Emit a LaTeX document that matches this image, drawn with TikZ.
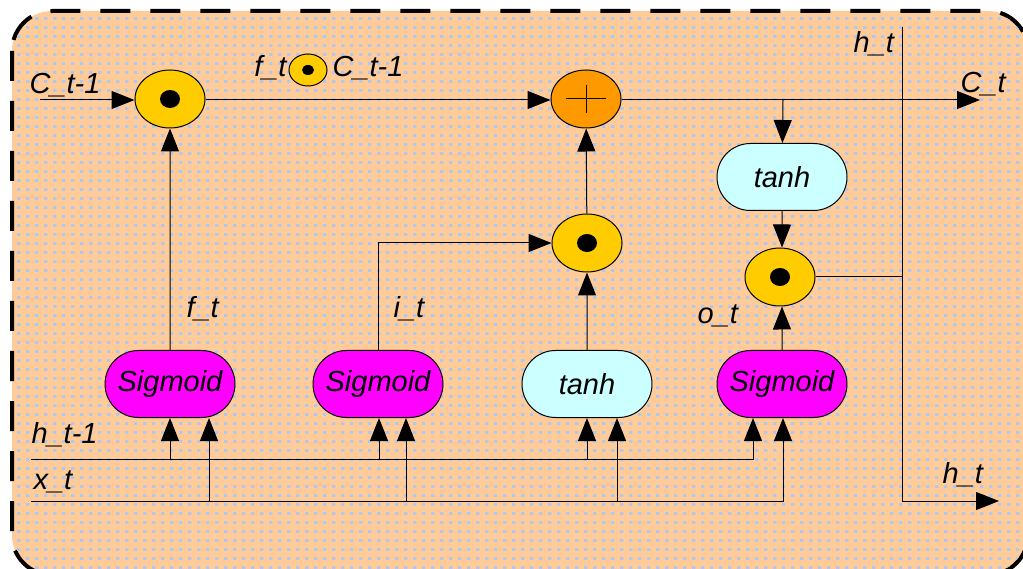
\documentclass[tikz,border=0pt]{standalone}
\usepackage{fontspec}
\setmainfont{Liberation Sans}
\usepackage{tikz}
\usetikzlibrary{shapes.misc,shapes.geometric,arrows.meta,patterns.meta}

\definecolor{peach}{HTML}{FFCC99}
\definecolor{dotblue}{HTML}{B0C8F0}
\definecolor{gold}{HTML}{FFCC00}
\definecolor{darkgold}{HTML}{FF9900}
\definecolor{pink}{HTML}{FF00FF}
\definecolor{icecyan}{HTML}{CCFFFF}

\tikzdeclarepattern{
  name=bluedots,
  type=uncolored,
  bounding box={(0pt,0pt) and (8.5pt,8.5pt)},
  tile size={(8.5pt,8.5pt)},
  code={\fill (0pt,0pt) rectangle (3.5pt,3pt);}
}

\tikzset{
  gate/.style={rounded rectangle, draw, minimum width=130, minimum height=67, inner sep=0},
  prod/.style={ellipse, draw, fill=gold, minimum width=70, minimum height=58, inner sep=0},
  arr/.style={-{Triangle[length=23pt,width=18pt]}},
  lbl/.style={inner sep=0, anchor=base west},
}

\begin{document}
\begin{tikzpicture}[x=1pt, y=-1pt, font=\fontsize{29}{31}\selectfont\itshape, line width=1pt]
    \useasboundingbox (0,0) rectangle (1023,569);
    \clip (0,0) rectangle (1023,569);

    % Background box
    \draw[line width=4pt, dash pattern=on 30pt off 20pt, rounded corners=40, fill=peach]
        (12,11) rectangle (1028,575);
    \fill[pattern=bluedots, pattern color=dotblue, rounded corners=38]
        (14,13) rectangle (1026,573);

    % Gates
    \node[gate, fill=pink] (sig1) at (170,384) {Sigmoid};
    \node[gate, fill=pink] (sig2) at (378,384) {Sigmoid};
    \node[gate, fill=icecyan] (th1) at (587,384) {tanh};
    \node[gate, fill=pink] (sig3) at (782,384) {Sigmoid};
    \node[gate, fill=icecyan] (th2) at (782,177) {tanh};

    % Pointwise operations
    \node[prod] (m1) at (170,99) {};
    \node[prod] (m2) at (587,243) {};
    \node[prod] (m3) at (780,277) {};
    \node[prod, fill=darkgold] (add) at (586,99) {};
    \fill (m1) ellipse (10 and 9);
    \fill (m2) ellipse (10 and 9);
    \fill (m3) ellipse (10 and 9);
    \draw (add)+(-20,0) -- +(20,0);
    \draw (add)+(0,-14) -- +(0,14);

    % Legend
    \node[ellipse, draw, fill=gold, minimum width=38, minimum height=32, inner sep=0] (leg) at (308,70) {};
    \fill (leg) ellipse (6 and 5);
    \node[inner sep=0, anchor=base east] (lf) at (287,77) {f\_t};
    \node[lbl] (lc) at (332,77) {C\_t-1};

    % Free ends
    \coordinate (cin) at (40,100);
    \coordinate (cout) at (980,100);
    \coordinate (br) at (783,100);
    \coordinate (hin) at (31,459);
    \coordinate (xin) at (31,501);
    \coordinate (htop) at (902,27);
    \coordinate (hcorner) at (902,501);
    \coordinate (hout) at (999,501);

    % Cell state
    \draw[arr] (cin) -- (m1.west |- cin);
    \draw[arr] (m1.east |- cin) -- (add.west |- cin);
    \draw[arr] (add.east |- cin) -- (cout);
    \draw[arr] (br) -- (th2);

    % Gate outputs
    \draw[arr] (sig1) -- (m1);
    \draw[arr] (sig2.north) |- (m2.west);
    \draw[arr] (th1) -- (m2);
    \draw[arr] (m2) -- (add);
    \draw[arr] (th2) -- (m3.north -| th2);
    \draw[arr] (sig3) -- (m3.south -| sig3);
    \draw (m3.east) -- (m3.east -| htop);
    \draw[arr] (htop) -- (hcorner) -- (hout);

    % Inputs h_t-1 and x_t
    \draw[arr] (hin) -| ([xshift=-29]sig3.south);
    \draw[arr] (xin) -| ([xshift=1]sig3.south);
    \draw[arr] (sig1.south |- hin) -- (sig1.south);
    \draw[arr] ([xshift=39]sig1.south |- xin) -- ([xshift=39]sig1.south);
    \draw[arr] ([xshift=1]sig2.south |- hin) -- ([xshift=1]sig2.south);
    \draw[arr] ([xshift=28]sig2.south |- xin) -- ([xshift=28]sig2.south);
    \draw[arr] (th1.south |- hin) -- (th1.south);
    \draw[arr] ([xshift=30]th1.south |- xin) -- ([xshift=30]th1.south);

    % Labels
    \node[lbl] (lcin) at (29,94) {C\_t-1};
    \node[lbl] (lht) at (853,53) {h\_t};
    \node[lbl] (lct) at (960,93) {C\_t};
    \node[lbl] (lft) at (186,318) {f\_t};
    \node[lbl] (lit) at (393,318) {i\_t};
    \node[lbl] (lot) at (697,324) {o\_t};
    \node[lbl] (lhin) at (31,443) {h\_t-1};
    \node[lbl] (lxt) at (33,489) {x\_t};
    \node[lbl] (lhout) at (942,483) {h\_t};
\end{tikzpicture}
\end{document}
